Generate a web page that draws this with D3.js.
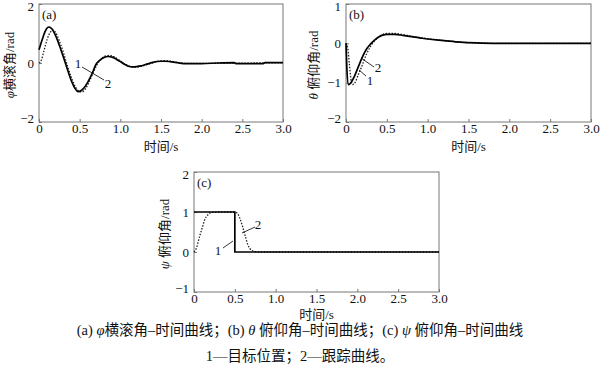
<!DOCTYPE html>
<html>
<head>
<meta charset="utf-8">
<script src="https://cdn.jsdelivr.net/npm/d3@7"></script>
<style>
  body { margin: 0; background: #fff; }
  text { font-family: "Liberation Serif", "Noto Sans CJK SC", serif; fill: #111; }
</style>
</head>
<body>
<div id="chart-area"></div>
<script>
// Time ticks shared by all three panels
const timeTicks = [0, 0.5, 1.0, 1.5, 2.0, 2.5, 3.0];

// (a) roll angle
const rollTicks = [-2, 0, 2];
const rollTargetTime = [0, 0.04, 0.08, 0.12, 0.16, 0.2, 0.25, 0.3, 0.35, 0.4, 0.44, 0.48, 0.52, 0.56, 0.6, 0.65, 0.7, 0.75, 0.8, 0.85, 0.9, 0.95, 1.0, 1.05, 1.1, 1.15, 1.2, 1.25, 1.3, 1.35, 1.4, 1.45, 1.5, 1.55, 1.6, 1.65, 1.7, 1.75, 1.8, 2.0, 2.2, 2.4, 2.42, 2.6, 2.75, 2.78, 3.0];
const rollTarget = [0.45, 0.8, 1.1, 1.22, 1.15, 0.95, 0.6, 0.2, -0.22, -0.62, -0.85, -0.97, -0.93, -0.82, -0.65, -0.38, -0.05, 0.1, 0.19, 0.22, 0.2, 0.13, 0.05, -0.04, -0.11, -0.13, -0.12, -0.1, -0.06, -0.02, 0.02, 0.05, 0.06, 0.06, 0.05, 0.03, 0.01, -0.01, -0.02, -0.02, 0.0, 0.01, -0.02, -0.02, -0.02, 0.01, 0.01];
const rollTrackTime = [0, 0.03, 0.06, 0.1, 0.14, 0.17, 0.2, 0.25, 0.3, 0.35, 0.4, 0.45, 0.5, 0.53, 0.57, 0.62, 0.67, 0.72, 0.77, 0.82, 0.87, 0.92, 0.97, 1.02, 1.08, 1.14, 1.2, 1.26, 1.32, 1.38, 1.44, 1.5, 1.55, 1.6, 1.65, 1.7, 1.75, 1.8, 2.0, 3.0];
const rollTrack = [0, 0.1, 0.4, 0.8, 1.05, 1.12, 1.05, 0.75, 0.35, -0.1, -0.5, -0.82, -0.97, -0.98, -0.88, -0.62, -0.3, -0.03, 0.14, 0.24, 0.26, 0.22, 0.13, 0.03, -0.07, -0.13, -0.14, -0.11, -0.06, -0.01, 0.04, 0.07, 0.08, 0.07, 0.05, 0.02, 0.0, -0.01, -0.01, 0.01];

// (b) pitch angle theta
const pitchTicks = [-2, -1, 0, 1];
const pitchTargetTime = [0, 0.01, 0.03, 0.06, 0.1, 0.15, 0.2, 0.25, 0.3, 0.35, 0.4, 0.45, 0.5, 0.6, 0.7, 0.8, 0.9, 1.0, 1.2, 1.4, 1.6, 1.8, 3.0];
const pitchTarget = [0, -0.6, -1.05, -1.0, -0.85, -0.6, -0.35, -0.15, -0.02, 0.08, 0.16, 0.21, 0.23, 0.23, 0.2, 0.17, 0.14, 0.11, 0.07, 0.03, 0.01, 0, 0];
const pitchTrackTime = [0, 0.02, 0.04, 0.06, 0.08, 0.11, 0.15, 0.2, 0.25, 0.3, 0.35, 0.4, 0.5, 0.6, 0.7, 0.8, 1.0, 1.2, 1.4, 1.6, 1.8, 3.0];
const pitchTrack = [0, -0.1, -0.5, -0.9, -1.05, -1.0, -0.8, -0.55, -0.28, -0.08, 0.06, 0.16, 0.25, 0.25, 0.22, 0.18, 0.12, 0.07, 0.03, 0.01, 0, 0];

// (c) psi angle
const yawTicks = [-1, 0, 1, 2];
const yawTargetTime = [0, 0.5, 0.5, 3.0];
const yawTarget = [1, 1, 0, 0];
const yawTrackTime = [0, 0.03, 0.07, 0.1, 0.13, 0.17, 0.22, 0.3, 0.5, 0.53, 0.56, 0.6, 0.63, 0.66, 0.7, 0.75, 0.8, 3.0];
const yawTrack = [0, 0.1, 0.4, 0.6, 0.8, 0.93, 0.99, 1.0, 1.0, 0.97, 0.85, 0.6, 0.38, 0.18, 0.05, 0.01, 0, 0];

const zip = (ts, vs) => ts.map((t, i) => ({ t: t, v: vs[i] }));

const svg = d3.select('#chart-area')
    .append('svg')
    .attr('width', 600)
    .attr('height', 373);

// Panel layout
const panels = [
    { label: '(a)', sym: 'φ', name: '横滚角/rad', left: 39, right: 283, top: 4, bottom: 122,
      domain: [-2, 2], ticks: rollTicks, titleX: 9, smooth: true, xTitleGap: 29,
      target: zip(rollTargetTime, rollTarget), track: zip(rollTrackTime, rollTrack),
      leaders: [
          { text: '1', tx: 78, ty: 63, x1: 82, y1: 67, x2: 104, y2: 80 },
          { text: '2', tx: 108, ty: 83 }
      ] },
    { label: '(b)', sym: 'θ', name: ' 俯仰角/rad', left: 346, right: 591, top: 4, bottom: 122,
      domain: [-2, 1], ticks: pitchTicks, titleX: 313, smooth: true, xTitleGap: 29,
      target: zip(pitchTargetTime, pitchTarget), track: zip(pitchTrackTime, pitchTrack),
      leaders: [
          { text: '2', tx: 378, ty: 67, x1: 361, y1: 58, x2: 374, y2: 67 },
          { text: '1', tx: 370, ty: 80, x1: 359, y1: 70, x2: 366, y2: 76 }
      ] },
    { label: '(c)', sym: 'ψ', name: ' 俯仰角/rad', left: 194, right: 439, top: 172, bottom: 292,
      domain: [-1, 2], ticks: yawTicks, titleX: 164, smooth: false, xTitleGap: 27,
      target: zip(yawTargetTime, yawTarget), track: zip(yawTrackTime, yawTrack),
      leaders: [
          { text: '1', tx: 218, ty: 250, x1: 223, y1: 248, x2: 233, y2: 241 },
          { text: '2', tx: 258, ty: 224, x1: 242, y1: 233, x2: 255, y2: 227 }
      ] }
];

panels.forEach((p) => {
    const x = d3.scaleLinear().domain([0, 3]).range([p.left, p.right]);
    const y = d3.scaleLinear().domain(p.domain).range([p.bottom, p.top]);
    const g = svg.append('g');

    // X Axis
    const xAxis = g.append('g')
        .attr('transform', 'translate(0,' + p.bottom + ')')
        .call(d3.axisBottom(x).tickValues(timeTicks).tickFormat(d3.format('.1f'))
            .tickSizeInner(-3).tickSizeOuter(0).tickPadding(2));
    xAxis.select('.domain').remove();
    xAxis.selectAll('line').attr('stroke', '#777');
    xAxis.selectAll('text').attr('font-size', '13px').attr('fill', '#111')
        .text((d) => d === 0 ? '0' : d3.format('.1f')(d));

    // Y Axis
    const yAxis = g.append('g')
        .attr('transform', 'translate(' + p.left + ',0)')
        .call(d3.axisLeft(y).tickValues(p.ticks).tickFormat((d) => d < 0 ? '−' + (-d) : d)
            .tickSizeInner(-3).tickSizeOuter(0).tickPadding(5));
    yAxis.select('.domain').remove();
    yAxis.selectAll('line').attr('stroke', '#777');
    yAxis.selectAll('text').attr('font-size', '13px').attr('fill', '#111')
        .attr('dy', (d) => d === p.domain[1] ? '0.5em' : (d === p.domain[0] ? '0.05em' : '0.32em'));

    // Frame
    g.append('rect')
        .attr('x', p.left).attr('y', p.top)
        .attr('width', p.right - p.left).attr('height', p.bottom - p.top)
        .attr('fill', 'none').attr('stroke', '#777').attr('stroke-width', 1);

    const line = d3.line()
        .x((d) => x(d.t))
        .y((d) => y(d.v));

    // Tracking curve (dotted)
    g.append('path')
        .datum(p.track)
        .attr('d', line.curve(d3.curveMonotoneX))
        .attr('fill', 'none')
        .attr('stroke', '#222')
        .attr('stroke-width', 1.3)
        .attr('stroke-dasharray', '1.5,1.5');

    // Target curve (solid)
    g.append('path')
        .datum(p.target)
        .attr('d', line.curve(p.smooth ? d3.curveMonotoneX : d3.curveLinear))
        .attr('fill', 'none')
        .attr('stroke', '#000')
        .attr('stroke-width', 1.7);

    // Panel label
    g.append('text')
        .attr('x', p.left + 3)
        .attr('y', p.top + 15)
        .attr('font-size', '13px')
        .text(p.label);

    // Y Label
    const yMid = (p.top + p.bottom) / 2 + 2;
    const yl = g.append('text')
        .attr('transform', 'translate(' + p.titleX + ',' + yMid + ') rotate(-90)')
        .attr('text-anchor', 'middle')
        .attr('dominant-baseline', 'central')
        .attr('font-size', '13px');
    yl.append('tspan').attr('font-style', 'italic').text(p.sym);
    yl.append('tspan').text(p.name);

    // X Label
    g.append('text')
        .attr('x', (p.left + p.right) / 2)
        .attr('y', p.bottom + p.xTitleGap)
        .attr('text-anchor', 'middle')
        .attr('font-size', '13px')
        .text('时间/s');

    // Curve number leaders
    p.leaders.forEach((l) => {
        if (l.x1 !== undefined) {
            g.append('line')
                .attr('x1', l.x1).attr('y1', l.y1)
                .attr('x2', l.x2).attr('y2', l.y2)
                .attr('stroke', '#000').attr('stroke-width', 0.8);
        }
        g.append('text')
            .attr('x', l.tx).attr('y', l.ty)
            .attr('text-anchor', 'middle')
            .attr('dominant-baseline', 'central')
            .attr('font-size', '13px')
            .attr('fill', '#000')
            .text(l.text);
    });
});

// Captions
const cap = svg.append('text')
    .attr('x', 300).attr('y', 335)
    .attr('text-anchor', 'middle')
    .attr('font-size', '14.5px');
cap.append('tspan').text('(a) ');
cap.append('tspan').attr('font-style', 'italic').text('φ');
cap.append('tspan').text('横滚角–时间曲线；(b) ');
cap.append('tspan').attr('font-style', 'italic').text('θ');
cap.append('tspan').text(' 俯仰角–时间曲线；(c) ');
cap.append('tspan').attr('font-style', 'italic').text('ψ');
cap.append('tspan').text(' 俯仰角–时间曲线');

svg.append('text')
    .attr('x', 300).attr('y', 361)
    .attr('text-anchor', 'middle')
    .attr('font-size', '14.5px')
    .text('1—目标位置；2—跟踪曲线。');
</script>
</body>
</html>
